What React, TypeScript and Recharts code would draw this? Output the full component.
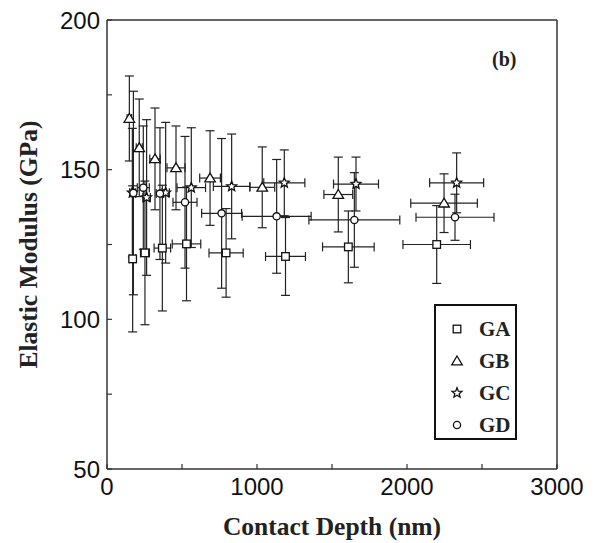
import React from 'react';
import { ScatterChart, Scatter, XAxis, YAxis, ErrorBar } from 'recharts';

// ---- data ----
const seriesNames = ['GA', 'GB', 'GC', 'GD'];

const gaDepth = [171, 253, 369, 530, 794, 1190, 1609, 2198];
const gaModulus = [120.2, 122.2, 123.8, 125.2, 122.2, 121.0, 124.2, 125.0];
const gaDepthErr = [20, 30, 55, 95, 114, 133, 172, 225];
const gaModulusErr = [24.4, 24, 21, 19, 14.8, 13, 12, 13];

const gbDepth = [149, 215, 320, 460, 687, 1035, 1542, 2247];
const gbModulus = [167.1, 157.3, 153.6, 150.6, 147.2, 144.1, 141.7, 138.8];
const gbDepthErr = [15, 20, 35, 60, 69, 83, 96, 222];
const gbModulusErr = [14.2, 16.3, 17, 14, 15.8, 13.5, 12.5, 9.8];

const gcDepth = [169, 264, 391, 562, 831, 1182, 1660, 2331];
const gcModulus = [142.3, 140.7, 142.3, 144.0, 144.4, 145.6, 145.2, 145.6];
const gcDepthErr = [18, 25, 25, 95, 122, 137, 150, 180];
const gcModulusErr = [21.5, 26, 23.5, 20, 17.5, 11, 9, 10];

const gdDepth = [176, 242, 353, 520, 764, 1131, 1649, 2320];
const gdModulus = [142.2, 144.0, 142.0, 139.1, 135.4, 134.4, 133.2, 134.1];
const gdDepthErr = [15, 40, 25, 80, 133, 230, 303, 260];
const gdModulusErr = [34, 20.6, 22, 22, 25, 19, 15.8, 7.7];

const xTicks = [0, 500, 1000, 1500, 2000, 2500, 3000];
const xTickLabels = ['0', '', '1000', '', '2000', '', '3000'];
const yTicks = [50, 75, 100, 125, 150, 175, 200];
const yTickLabels = ['50', '', '100', '', '150', '', '200'];

const build = (d: number[], m: number[], de: number[], me: number[]) =>
  d.map((x, i) => ({ x, y: m[i], ex: de[i], ey: me[i] }));

const gaData = build(gaDepth, gaModulus, gaDepthErr, gaModulusErr);
const gbData = build(gbDepth, gbModulus, gbDepthErr, gbModulusErr);
const gcData = build(gcDepth, gcModulus, gcDepthErr, gcModulusErr);
const gdData = build(gdDepth, gdModulus, gdDepthErr, gdModulusErr);

const INK = '#111';
const SW = 1.3;

const SquareShape = (p: any) => (
  <rect x={p.cx - 3.8} y={p.cy - 3.8} width={7.6} height={7.6} fill="#fff" stroke={INK} strokeWidth={SW} />
);
const TriangleShape = (p: any) => (
  <polygon
    points={`${p.cx},${p.cy - 5} ${p.cx + 5.3},${p.cy + 3.8} ${p.cx - 5.3},${p.cy + 3.8}`}
    fill="#fff"
    stroke={INK}
    strokeWidth={SW}
  />
);
const starPoints = (cx: number, cy: number, R: number, r: number) => {
  const pts: string[] = [];
  for (let i = 0; i < 10; i++) {
    const rad = i % 2 === 0 ? R : r;
    const a = -Math.PI / 2 + (i * Math.PI) / 5;
    pts.push(`${(cx + rad * Math.cos(a)).toFixed(2)},${(cy + rad * Math.sin(a)).toFixed(2)}`);
  }
  return pts.join(' ');
};
const StarShape = (p: any) => (
  <polygon points={starPoints(p.cx, p.cy, 5.2, 2.3)} fill="#fff" stroke={INK} strokeWidth={SW} />
);
const CircleShape = (p: any) => (
  <circle cx={p.cx} cy={p.cy} r={3.6} fill="#fff" stroke={INK} strokeWidth={SW} />
);

const shapes = [SquareShape, TriangleShape, StarShape, CircleShape];
const datasets = [gaData, gbData, gcData, gdData];

const tickFont = { fontFamily: '"Liberation Sans", Arial, sans-serif', fontSize: 24, fill: '#111' };
const titleFont = {
  fontFamily: '"Liberation Serif", "Times New Roman", serif',
  fontWeight: 'bold' as const,
  fontSize: 25.5,
  fill: '#222',
};

export default function App() {
  return (
    <div style={{ position: 'relative', width: 610, height: 543, background: '#fff' }}>
      <style>{'html,body{margin:0;padding:0;overflow:hidden;}'}</style>
      <ScatterChart width={610} height={543} margin={{ top: 10, right: 43, bottom: 0, left: 10 }}>
        <XAxis
          xAxisId="bottom"
          type="number"
          dataKey="x"
          domain={[0, 3000]}
          ticks={xTicks}
          tickFormatter={(v: number) => xTickLabels[xTicks.indexOf(v)] ?? ''}
          interval={0}
          height={74}
          tickSize={-5}
          tickMargin={14}
          tick={tickFont}
          axisLine={{ stroke: '#333', strokeWidth: 1.5 }}
          tickLine={{ stroke: '#333', strokeWidth: 1.2 }}
          label={{
            value: 'Contact Depth (nm)',
            position: 'insideBottom',
            offset: 8,
            style: titleFont,
          }}
        />
        <XAxis
          xAxisId="top"
          orientation="top"
          type="number"
          domain={[0, 3000]}
          ticks={xTicks}
          tickFormatter={() => ''}
          interval={0}
          height={10}
          tickSize={-5}
          axisLine={{ stroke: '#333', strokeWidth: 1.5 }}
          tickLine={{ stroke: '#333', strokeWidth: 1.2 }}
        />
        <YAxis
          yAxisId="left"
          type="number"
          dataKey="y"
          domain={[50, 200]}
          ticks={yTicks}
          tickFormatter={(v: number) => yTickLabels[yTicks.indexOf(v)] ?? ''}
          interval={0}
          width={97}
          tickSize={-5}
          tickMargin={12}
          tick={tickFont}
          axisLine={{ stroke: '#333', strokeWidth: 1.5 }}
          tickLine={{ stroke: '#333', strokeWidth: 1.2 }}
          label={{
            value: 'Elastic Modulus (GPa)',
            angle: -90,
            position: 'insideLeft',
            offset: 18,
            style: { ...titleFont, textAnchor: 'middle' },
          }}
        />
        <YAxis
          yAxisId="right"
          orientation="right"
          type="number"
          domain={[50, 200]}
          ticks={yTicks}
          tickFormatter={() => ''}
          interval={0}
          width={10}
          tickSize={-5}
          axisLine={{ stroke: '#333', strokeWidth: 1.5 }}
          tickLine={{ stroke: '#333', strokeWidth: 1.2 }}
        />
        {datasets.map((data, i) => (
          <Scatter
            key={seriesNames[i]}
            name={seriesNames[i]}
            data={data}
            xAxisId="bottom"
            yAxisId="left"
            shape={shapes[i]}
            isAnimationActive={false}
          >
            <ErrorBar dataKey="ey" direction="y" width={4.5} stroke="#222" strokeWidth={1.2} />
            <ErrorBar dataKey="ex" direction="x" width={4.5} stroke="#222" strokeWidth={1.2} />
          </Scatter>
        ))}
      </ScatterChart>

      {/* panel tag */}
      <div
        style={{
          position: 'absolute',
          left: 492,
          top: 48,
          fontFamily: '"Liberation Serif", "Times New Roman", serif',
          fontWeight: 'bold',
          fontSize: 20,
          color: '#222',
        }}
      >
        (b)
      </div>

      {/* legend */}
      <div
        style={{
          position: 'absolute',
          left: 434,
          top: 304,
          width: 79,
          height: 132,
          border: '2px solid #111',
          background: '#fff',
        }}
      >
        {seriesNames.map((name, i) => {
          const Shape = shapes[i];
          return (
            <div key={name} style={{ position: 'absolute', left: 0, top: 10 + i * 32, height: 26, width: 79 }}>
              <svg width={20} height={20} style={{ position: 'absolute', left: 11, top: 3 }}>
                <Shape cx={10} cy={10} />
              </svg>
              <span
                style={{
                  position: 'absolute',
                  left: 43,
                  top: 0,
                  fontFamily: '"Liberation Serif", "Times New Roman", serif',
                  fontWeight: 'bold',
                  fontSize: 21,
                  lineHeight: '26px',
                  color: '#222',
                }}
              >
                {name}
              </span>
            </div>
          );
        })}
      </div>
    </div>
  );
}
